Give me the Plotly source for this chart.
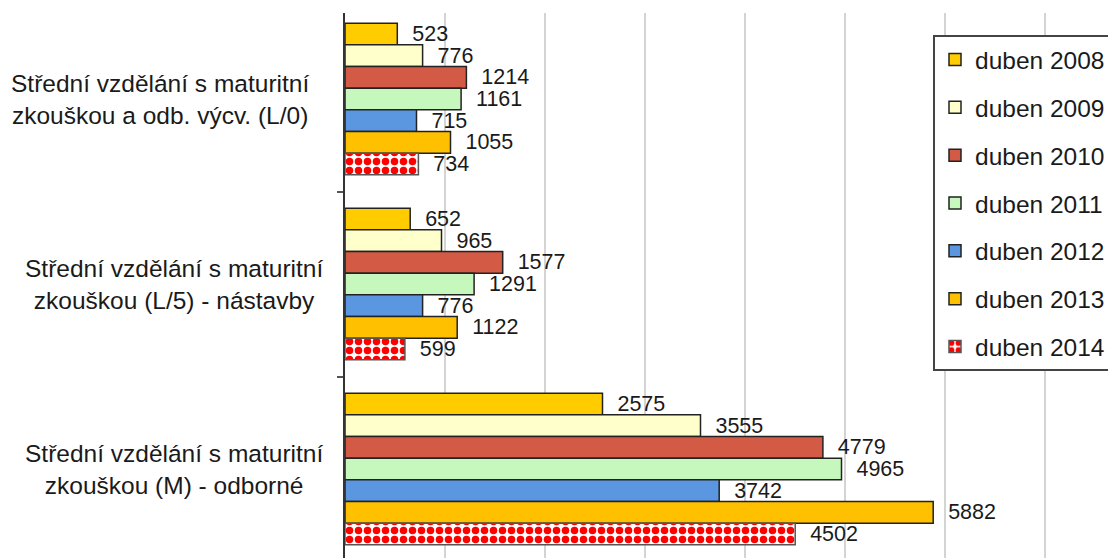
import plotly.graph_objects as go

# Study programmes (category axis, top to bottom)
categories = [
    "Střední vzdělání s maturitní<br>zkouškou a odb. výcv. (L/0)",
    "Střední vzdělání s maturitní<br>zkouškou (L/5) - nástavby",
    "Střední vzdělání s maturitní<br>zkouškou (M) - odborné",
]

# Series names and values per programme
series_names = ["duben 2008", "duben 2009", "duben 2010", "duben 2011",
                "duben 2012", "duben 2013", "duben 2014"]
v2008 = [523, 652, 2575]
v2009 = [776, 965, 3555]
v2010 = [1214, 1577, 4779]
v2011 = [1161, 1291, 4965]
v2012 = [715, 776, 3742]
v2013 = [1055, 1122, 5882]
v2014 = [734, 599, 4502]
series_values = [v2008, v2009, v2010, v2011, v2012, v2013, v2014]

colors = ["#FFCC00", "#FFFFCC", "#D35A44", "#C6F7BC", "#5B96E0", "#FFC000", "#FFFFFF"]

FONT = "Arial, Liberation Sans, sans-serif"
NB = "\u00a0\u00a0"

fig = go.Figure()
for i, (name, vals) in enumerate(zip(series_names, series_values)):
    marker = dict(color=colors[i], line=dict(color="#222222", width=1.5))
    if name == "duben 2014":
        marker = dict(
            color="#FFFFFF",
            line=dict(color="#555555", width=1.5),
            pattern=dict(shape=".", fgcolor="#FF0000", bgcolor="#FFFFFF",
                         size=9, solidity=0.55, fillmode="replace"),
        )
    fig.add_trace(go.Bar(
        name=name,
        y=categories,
        x=vals,
        orientation="h",
        marker=marker,
        text=[f"{NB}{v}" for v in vals],
        textposition="outside",
        textfont=dict(family=FONT, size=21.5, color="#1a1a1a"),
        constraintext="none",
        cliponaxis=False,
        legendgroup=name,
    ))

# Category labels, centred two-line blocks left of the axis
label_x_px = [160, 174, 174]
L, W = 345, 1108 - 345
for cat, px in zip(categories, label_x_px):
    fig.add_annotation(
        x=(px - L) / W, xref="paper", y=cat, yref="y",
        text=cat, showarrow=False, align="center",
        xanchor="center", yanchor="middle",
        font=dict(family=FONT, size=24.5, color="#1a1a1a"),
    )

fig.update_layout(
    width=1108, height=558,
    margin=dict(l=345, r=0, t=13, b=0, autoexpand=False),
    paper_bgcolor="white", plot_bgcolor="white",
    barmode="group", bargap=0.18, bargroupgap=0,
    showlegend=True,
    legend=dict(
        xref="container", yref="container",
        x=933 / 1108, y=1 - 35 / 558, xanchor="left", yanchor="top",
        bgcolor="white", bordercolor="#444444", borderwidth=2,
        font=dict(family=FONT, size=24.5, color="#1a1a1a"),
        tracegroupgap=13, traceorder="grouped",
        maxheight=500,
    ),
    font=dict(family=FONT),
)

fig.update_xaxes(
    range=[0, (1108 - 345) / 0.1],
    dtick=1000, tick0=0,
    showgrid=True, gridcolor="#D4D4D4", gridwidth=2,
    zeroline=False, showticklabels=False, ticks="",
)
fig.update_yaxes(
    type="category",
    range=[2.481, -0.465],
    showticklabels=False,
    ticks="outside", tickson="boundaries", ticklen=6, tickcolor="#555555", tickwidth=2,
    showline=True, linecolor="#333333", linewidth=2,
    showgrid=False,
)

fig.write_html("out.html")
